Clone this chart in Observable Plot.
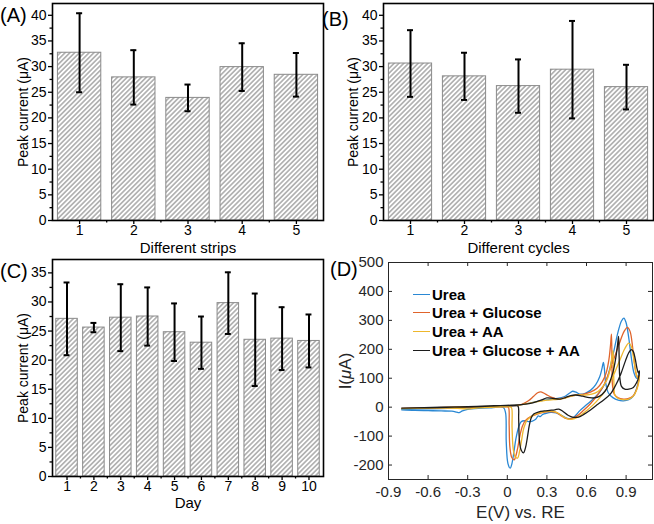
<!DOCTYPE html>
<html><head><meta charset="utf-8">
<script src="https://cdn.jsdelivr.net/npm/d3@7"></script>
<script src="https://cdn.jsdelivr.net/npm/@observablehq/plot@0.6"></script>
<style>
body{margin:0;background:#fff;width:654px;height:524px;position:relative;overflow:hidden;font-family:"Liberation Sans",Arial,sans-serif}
.panel{position:absolute}
.tag{position:absolute;font-family:"Liberation Sans",Arial,sans-serif;font-size:20px;line-height:20px;color:#000}
#legend{position:absolute;left:413px;top:285px;font:bold 15px "Liberation Sans",Arial,sans-serif;color:#000}
#legend .row{display:flex;align-items:center;height:18.6px}
#legend .sw{display:inline-block;width:17px;height:0;border-top:1.5px solid #000;margin-right:2px}
</style></head><body>
<div id="A" class="panel" style="left:0;top:0"></div>
<div id="B" class="panel" style="left:330px;top:0"></div>
<div id="C" class="panel" style="left:0;top:255px"></div>
<div id="D" class="panel" style="left:330px;top:255px"></div>
<div class="tag" style="left:0;top:5px">(A)</div>
<div class="tag" style="left:322px;top:9px">(B)</div>
<div class="tag" style="left:0;top:261px">(C)</div>
<div class="tag" style="left:330px;top:259px">(D)</div>
<div id="legend"></div>
<script>
// ---- Panel A: different strips ----
const strips = [1, 2, 3, 4, 5];
const stripMean = [32.7, 27.9, 23.9, 29.9, 28.4];
const stripErr = [7.7, 5.3, 2.6, 4.65, 4.25];
// ---- Panel B: different cycles ----
const cycles = [1, 2, 3, 4, 5];
const cycleMean = [30.6, 28.1, 26.2, 29.4, 26.0];
const cycleErr = [6.5, 4.6, 5.2, 9.5, 4.35];
// ---- Panel C: days ----
const days = [1, 2, 3, 4, 5, 6, 7, 8, 9, 10];
const dayMean = [27.1, 25.6, 27.3, 27.5, 24.8, 23.0, 29.8, 23.5, 23.7, 23.3];
const dayErr = [6.25, 0.8, 5.75, 5.0, 4.95, 4.5, 5.3, 7.95, 5.4, 4.55];
// ---- Panel D: cyclic voltammograms [E (V), I (uA)] ----
const seriesNames = ["Urea", "Urea + Glucose", "Urea + AA", "Urea + Glucose + AA"];
const seriesColors = ["#2a88d4", "#e0642c", "#eeb72c", "#1c1c1c"];
const cvUrea = [[-0.80,-9],[-0.70,-11],[-0.60,-12],[-0.50,-13],[-0.42,-14],[-0.385,-17],[-0.365,-19],[-0.34,-13],[-0.30,-8],[-0.22,-4],[-0.12,-2],[-0.03,-1],[-0.013,-20],[-0.008,-120],[0.005,-195],[0.022,-211],[0.035,-195],[0.05,-155],[0.065,-110],[0.085,-70],[0.105,-50],[0.13,-47],[0.16,-50],[0.19,-48],[0.215,-42],[0.235,-30],[0.25,-33],[0.265,-26],[0.29,-22],[0.33,-18],[0.37,-20],[0.41,-28],[0.45,-38],[0.48,-40],[0.51,-32],[0.55,-12],[0.60,8],[0.65,28],[0.70,52],[0.75,92],[0.78,140],[0.81,200],[0.84,262],[0.865,298],[0.883,308],[0.90,292],[0.92,240],[0.94,170],[0.96,118],[0.98,100],[0.995,112],[1.0,122],[0.995,95],[0.98,65],[0.955,38],[0.92,26],[0.88,22],[0.84,24],[0.80,33],[0.765,50],[0.745,85],[0.735,135],[0.728,155],[0.718,135],[0.70,105],[0.67,78],[0.63,58],[0.59,48],[0.55,45],[0.52,52],[0.495,55],[0.47,48],[0.43,36],[0.38,30],[0.32,27],[0.25,22],[0.17,14],[0.08,7],[0.0,3],[-0.15,1],[-0.30,-2],[-0.45,-4],[-0.60,-6],[-0.80,-8]];
const cvGlucose = [[-0.80,-4],[-0.60,-3],[-0.45,-2],[-0.30,-1],[-0.15,0],[0.0,1],[0.01,-2],[0.014,-60],[0.02,-140],[0.035,-175],[0.052,-182],[0.065,-168],[0.08,-138],[0.095,-100],[0.115,-65],[0.14,-45],[0.18,-32],[0.22,-25],[0.27,-18],[0.32,-15],[0.37,-18],[0.41,-30],[0.45,-40],[0.49,-40],[0.53,-30],[0.58,-10],[0.63,12],[0.68,40],[0.73,75],[0.77,120],[0.81,170],[0.85,222],[0.885,262],[0.91,276],[0.93,262],[0.95,205],[0.965,145],[0.98,108],[0.992,100],[1.0,110],[0.995,90],[0.98,62],[0.955,40],[0.92,30],[0.88,28],[0.84,32],[0.81,45],[0.797,75],[0.793,160],[0.789,252],[0.782,215],[0.77,165],[0.75,120],[0.72,88],[0.68,65],[0.63,52],[0.58,45],[0.53,42],[0.48,38],[0.43,32],[0.38,28],[0.33,35],[0.29,45],[0.255,53],[0.23,50],[0.20,38],[0.16,22],[0.11,10],[0.05,5],[0.0,3],[-0.20,1],[-0.40,0],[-0.60,-2],[-0.80,-4]];
const cvAA = [[-0.80,-5],[-0.60,-4],[-0.45,-3],[-0.35,-5],[-0.30,-6],[-0.22,-2],[-0.10,0],[0.02,1],[0.032,-2],[0.036,-70],[0.045,-145],[0.06,-172],[0.078,-176],[0.092,-155],[0.108,-115],[0.125,-72],[0.15,-45],[0.19,-30],[0.24,-20],[0.29,-15],[0.34,-14],[0.39,-22],[0.43,-35],[0.47,-42],[0.51,-40],[0.55,-30],[0.60,-12],[0.65,8],[0.70,32],[0.75,62],[0.80,105],[0.85,160],[0.89,202],[0.92,221],[0.94,210],[0.958,165],[0.975,120],[0.99,100],[1.0,105],[0.995,85],[0.98,60],[0.955,38],[0.92,28],[0.88,26],[0.84,30],[0.815,42],[0.808,80],[0.804,150],[0.80,195],[0.793,175],[0.78,135],[0.76,100],[0.73,75],[0.69,55],[0.64,45],[0.59,42],[0.54,42],[0.50,40],[0.45,33],[0.40,28],[0.35,26],[0.30,24],[0.22,18],[0.12,10],[0.03,5],[-0.10,3],[-0.30,1],[-0.50,-2],[-0.80,-5]];
const cvGlucoseAA = [[-0.80,-3],[-0.60,-2],[-0.40,0],[-0.20,2],[-0.05,5],[0.05,5],[0.08,4],[0.086,-40],[0.092,-115],[0.105,-148],[0.123,-158],[0.138,-140],[0.152,-105],[0.166,-65],[0.18,-38],[0.20,-24],[0.24,-16],[0.28,-13],[0.32,-11],[0.36,-9],[0.39,-7],[0.42,-14],[0.46,-28],[0.50,-35],[0.54,-34],[0.58,-25],[0.63,-10],[0.68,8],[0.73,25],[0.78,45],[0.82,75],[0.86,115],[0.895,160],[0.92,188],[0.94,199],[0.955,192],[0.97,165],[0.982,135],[0.993,118],[1.0,125],[0.995,105],[0.98,85],[0.955,68],[0.92,62],[0.89,62],[0.865,72],[0.852,105],[0.847,180],[0.843,245],[0.835,215],[0.82,165],[0.80,120],[0.77,80],[0.74,55],[0.70,38],[0.66,32],[0.62,33],[0.57,38],[0.52,42],[0.48,40],[0.44,33],[0.40,28],[0.35,30],[0.30,32],[0.26,25],[0.20,16],[0.12,10],[0.03,7],[-0.10,5],[-0.30,2],[-0.50,0],[-0.80,-3]];
const cvSeries = [cvUrea, cvGlucose, cvAA, cvGlucoseAA];
const xTicksD = [-0.9, -0.6, -0.3, 0, 0.3, 0.6, 0.9];
const yTicksD = [-200, -100, 0, 100, 200, 300, 400, 500];

const FONT = "Liberation Sans, Arial, sans-serif";

function addHatch(svg, id) {
  const defs = d3.select(svg).insert("defs", ":first-child");
  const p = defs.append("pattern").attr("id", id).attr("patternUnits", "userSpaceOnUse")
    .attr("width", 3.4).attr("height", 3.4).attr("patternTransform", "rotate(45)");
  p.append("rect").attr("width", 3.4).attr("height", 3.4).attr("fill", "#fff");
  p.append("line").attr("x1", 1.7).attr("y1", 0).attr("x2", 1.7).attr("y2", 3.4)
    .attr("stroke", "#7c7c7c").attr("stroke-width", 1);
}

function barPanel(el, xs, means, errs, o) {
  const data = xs.map((x, i) => ({x, m: means[i], e: errs[i]}));
  const id = "hatch" + el;
  const yMajor = d3.range(0, o.yMax, 5);
  const yMinor = d3.range(2.5, o.yMax, 5);
  const xMinor = xs.slice(0, -1).map(x => x + 0.5);
  const svg = Plot.plot({
    width: o.width, height: o.height,
    marginLeft: o.ml, marginRight: o.mr, marginTop: o.mt, marginBottom: o.mb,
    style: {fontFamily: FONT, fontSize: "14px", color: "#000", background: "transparent", overflow: "visible"},
    x: {domain: o.xDomain},
    y: {domain: [0, o.yMax]},
    marks: [
      Plot.rect(data, {x1: d => d.x - o.hw, x2: d => d.x + o.hw, y1: 0, y2: "m", fill: `url(#${id})`, stroke: "#8a8a8a", strokeWidth: 1}),
      Plot.ruleX(data, {x: "x", y1: d => d.m - d.e, y2: d => d.m + d.e, stroke: "#000", strokeWidth: 2}),
      Plot.ruleY(data, {y: d => d.m + d.e, x1: d => d.x - o.cap, x2: d => d.x + o.cap, stroke: "#000", strokeWidth: 2}),
      Plot.ruleY(data, {y: d => d.m - d.e, x1: d => d.x - o.cap, x2: d => d.x + o.cap, stroke: "#000", strokeWidth: 2}),
      Plot.axisY({ticks: yMajor, tickSize: 4, tickPadding: 2, fontSize: 14, label: null, tickFormat: d => String(d), strokeWidth: 1.3}),
      Plot.axisY({ticks: yMinor, tickSize: 2.5, label: null, tickFormat: () => "", strokeWidth: 1.3}),
      Plot.axisX({ticks: xs, tickSize: 4, tickPadding: 1, fontSize: 14, label: null, tickFormat: d => String(d), strokeWidth: 1.3}),
      Plot.axisX({ticks: xMinor, tickSize: 2.5, label: null, tickFormat: () => "", strokeWidth: 1.3}),
      Plot.frame({stroke: "#000", strokeWidth: 1.6}),
      Plot.text([o.xLabel], {text: d => d, frameAnchor: "bottom", lineAnchor: "middle", textAnchor: "middle", dy: o.xLabelDy, fontSize: 15}),
      Plot.text(["Peak current (μA)"], {text: d => d, frameAnchor: "left", textAnchor: "middle", lineAnchor: "middle", dx: o.yLabelDx, rotate: -90, fontSize: 14})
    ]
  });
  addHatch(svg, id);
  document.getElementById(el).append(svg);
}

barPanel("A", strips, stripMean, stripErr, {width: 327, height: 255, ml: 52, mr: 4, mt: 3, mb: 35,
  xDomain: [0.5, 5.5], yMax: 42.3, hw: 0.4, cap: 0.056, xLabel: "Different strips", xLabelDy: 27.5, yLabelDx: -29});
barPanel("B", cycles, cycleMean, cycleErr, {width: 324, height: 255, ml: 53, mr: 1, mt: 3, mb: 35,
  xDomain: [0.5, 5.5], yMax: 42.3, hw: 0.4, cap: 0.056, xLabel: "Different cycles", xLabelDy: 27.5, yLabelDx: -30});
barPanel("C", days, dayMean, dayErr, {width: 327, height: 269, ml: 52, mr: 4, mt: 4, mb: 48,
  xDomain: [0.46, 10.54], yMax: 37.3, hw: 0.4, cap: 0.11, xLabel: "Day", xLabelDy: 27, yLabelDx: -29});

// ---- Panel D ----
const cvRows = cvSeries.flatMap((pts, s) => pts.map(([e, i], k) => ({s: seriesNames[s], e, i, k})));
const tkX = 2.0 / 264 * 4, tkY = 750 / 217 * 4;
const ink = "#262626";
const svgD = Plot.plot({
  width: 324, height: 269, marginLeft: 58, marginRight: 2, marginTop: 7, marginBottom: 45,
  style: {fontFamily: FONT, fontSize: "15px", color: ink, background: "transparent", overflow: "visible"},
  x: {domain: [-0.9, 1.1]},
  y: {domain: [-250, 500]},
  color: {domain: seriesNames, range: seriesColors},
  marks: [
    Plot.line(cvRows, {x: "e", y: "i", z: "s", stroke: "s", strokeWidth: 1.3, curve: "catmull-rom"}),
    Plot.ruleX(xTicksD, {x: d => d, y1: -250, y2: -250 + tkY, stroke: ink}),
    Plot.ruleX(xTicksD, {x: d => d, y1: 500 - tkY, y2: 500, stroke: ink}),
    Plot.ruleY(yTicksD, {y: d => d, x1: -0.9, x2: -0.9 + tkX, stroke: ink}),
    Plot.ruleY(yTicksD, {y: d => d, x1: 1.1 - tkX, x2: 1.1, stroke: ink}),
    Plot.axisX({ticks: xTicksD, tickSize: 0, tickPadding: 7, fontSize: 15, label: null, tickFormat: d => String(d)}),
    Plot.axisY({ticks: yTicksD, tickSize: 0, tickPadding: 5, fontSize: 15, label: null, tickFormat: d => String(d)}),
    Plot.frame({stroke: ink, strokeWidth: 1}),
    Plot.text(["E(V) vs. RE"], {text: d => d, frameAnchor: "bottom", lineAnchor: "middle", textAnchor: "middle", dy: 33, fontSize: 17, fill: ink}),
    Plot.text(["I(μA)"], {text: d => d, frameAnchor: "left", textAnchor: "middle", lineAnchor: "middle", dx: -43, rotate: -90, fontSize: 17, fill: ink, className: "ylabD"})
  ]
});
document.getElementById("D").append(svgD);
const yl = d3.select(svgD).select(".ylabD text");
if (!yl.empty()) {
  yl.text(null);
  yl.append("tspan").text("I(");
  yl.append("tspan").attr("font-style", "italic").text("μ");
  yl.append("tspan").text("A)");
}

// legend
const lg = document.getElementById("legend");
seriesNames.forEach((n, i) => {
  const row = document.createElement("div");
  row.className = "row";
  row.innerHTML = `<span class="sw" style="border-top-color:${seriesColors[i]}"></span><span>${n}</span>`;
  lg.append(row);
});
</script>
</body></html>
